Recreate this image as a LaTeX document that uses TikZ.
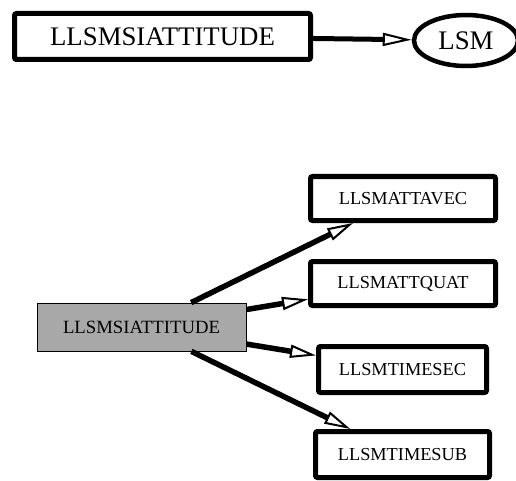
\documentclass[tikz,border=0pt]{standalone}
\usepackage{fontspec}
\setmainfont{Liberation Serif}
\usetikzlibrary{arrows.meta,shapes.geometric}
\definecolor{boxgray}{RGB}{168,168,168}
\begin{document}
\begin{tikzpicture}[x=1pt,y=-1pt,
  bigbox/.style={draw, line width=5pt, rounded corners=2pt, inner sep=0pt,
    font=\fontsize{26.8}{30}\selectfont},
  bigoval/.style={draw, ellipse, line width=4.5pt, inner sep=0pt,
    font=\fontsize{26.8}{30}\selectfont},
  rootbox/.style={draw, line width=0.8pt, fill=boxgray, inner sep=0pt,
    minimum width=209pt, minimum height=48pt, font=\fontsize{18.7}{21}\selectfont},
  leafbox/.style={draw, line width=5pt, rounded corners=2pt, inner sep=0pt,
    font=\fontsize{18.3}{21}\selectfont},
  bigarrow/.style={line width=5pt,
    -{Triangle[open, length=29pt, width=13pt, line width=2pt]}},
  linkarrow/.style={line width=5.5pt,
    -{Triangle[open, length=26pt, width=13pt, line width=2pt]}}
]
\useasboundingbox (0,0) rectangle (516,481);

% dependency of the module on LSM
\node[bigbox, minimum width=296pt, minimum height=46pt] (top) at (162.5,36.5) {LLSMSIATTITUDE};
\node[bigoval, minimum width=104pt, minimum height=51pt] (lsm) at (466,40.5) {LSM};
\draw[bigarrow] (top) -- (lsm);

% module and its members
\node[rootbox] (root) at (141.5,327) {LLSMSIATTITUDE};
\node[leafbox, minimum width=185pt, minimum height=44pt] (avec) at (403,198.5) {LLSMATTAVEC};
\node[leafbox, minimum width=185pt, minimum height=44pt] (quat) at (403,283.5) {LLSMATTQUAT};
\node[leafbox, minimum width=168pt, minimum height=46pt] (tsec) at (402.5,369.5) {LLSMTIMESEC};
\node[leafbox, minimum width=174pt, minimum height=46pt] (tsub) at (402.5,454.5) {LLSMTIMESUB};

\draw[linkarrow] (root) -- (avec);
\draw[linkarrow] (root) -- (quat);
\draw[linkarrow] (root) -- (tsec);
\draw[linkarrow] (root) -- (tsub);
\end{tikzpicture}
\end{document}
